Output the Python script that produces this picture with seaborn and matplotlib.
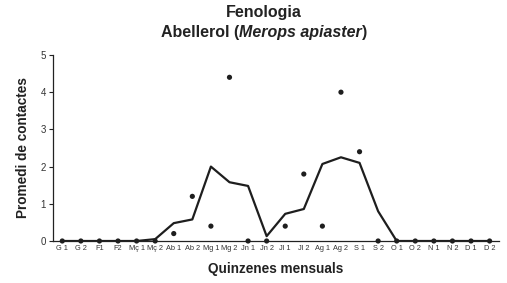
import matplotlib
matplotlib.use("Agg")
import matplotlib.pyplot as plt
import seaborn as sns
import numpy as np
import pandas as pd

categories = ["G 1", "G 2", "F1", "F2", "Mç 1", "Mç 2", "Ab 1", "Ab 2", "Mg 1", "Mg 2",
              "Jn 1", "Jn 2", "Jl 1", "Jl 2", "Ag 1", "Ag 2", "S 1", "S 2", "O 1", "O 2",
              "N 1", "N 2", "D 1", "D 2"]
mean_values = [0, 0, 0, 0, 0, 0.05, 0.48, 0.58, 2.0, 1.58, 1.48, 0.13, 0.73, 0.86,
               2.07, 2.25, 2.1, 0.8, 0, 0, 0, 0, 0, 0]
year_values = [0, 0, 0, 0, 0, 0, 0.2, 1.2, 0.4, 4.4, 0, 0, 0.4, 1.8, 0.4, 4.0, 2.4,
               0, 0, 0, 0, 0, 0, 0]
yticks = [0, 1, 2, 3, 4, 5]

sns.set_style("white")
plt.rcParams["font.family"] = ["Liberation Sans", "DejaVu Sans"]

df = pd.DataFrame({"pos": np.arange(len(categories)), "cat": categories,
                   "mean": mean_values, "year": year_values})

fig = plt.figure(figsize=(5.07, 2.83), dpi=100)
ax = fig.add_axes([0.1045, 0.1484, 0.8795, 0.6573])

sns.lineplot(data=df, x="pos", y="mean", ax=ax, color="#1e1e1e", linewidth=1.6)
sns.scatterplot(data=df, x="pos", y="year", ax=ax, color="#1e1e1e", s=14,
                edgecolor="none", clip_on=False, zorder=5)

ax.set_xlim(-0.5, len(categories) - 0.5)
ax.set_ylim(0, 5)
ax.set_yticks(yticks)
ax.set_yticklabels([str(v) for v in yticks], fontsize=7, color="#333333")
ax.set_xticks(df["pos"])
ax.set_xticklabels(categories, fontsize=5.3, color="#333333")
ax.set_xticks(np.arange(-0.5, len(categories), 1), minor=True)
ax.tick_params(axis="x", which="major", length=0, pad=3)
ax.tick_params(axis="x", which="minor", length=4, width=0.8, direction="inout", color="#222222")
ax.tick_params(axis="y", which="major", length=3, width=0.8, direction="out", color="#222222", pad=2, left=True)
for side in ["top", "right"]:
    ax.spines[side].set_visible(False)
for side in ["left", "bottom"]:
    ax.spines[side].set_color("#222222")
    ax.spines[side].set_linewidth(0.9)

ax.set_xlabel("Quinzenes mensuals", fontsize=9.8, fontweight="bold", color="#222222", labelpad=7)
ax.set_ylabel("Promedi de contactes", fontsize=9.8, fontweight="bold", color="#222222", labelpad=8)

# Title
fig.text(0.521, 0.955, "Fenologia", ha="center", va="center", fontsize=11.5, fontweight="bold", color="#222222")
renderer = fig.canvas.get_renderer()
parts = [("Abellerol (", "normal"), ("Merops apiaster", "italic"), (")", "normal")]
texts = []
for s, st in parts:
    t = fig.text(0, 0.885, s, ha="left", va="center", fontsize=11.5, fontweight="bold",
                 fontstyle=st, color="#222222")
    texts.append(t)
widths = [t.get_window_extent(renderer).width / fig.bbox.width for t in texts]
total = sum(widths)
x = 0.521 - total / 2
for t, w in zip(texts, widths):
    t.set_x(x)
    x += w

fig.savefig("out.png", dpi=100)
